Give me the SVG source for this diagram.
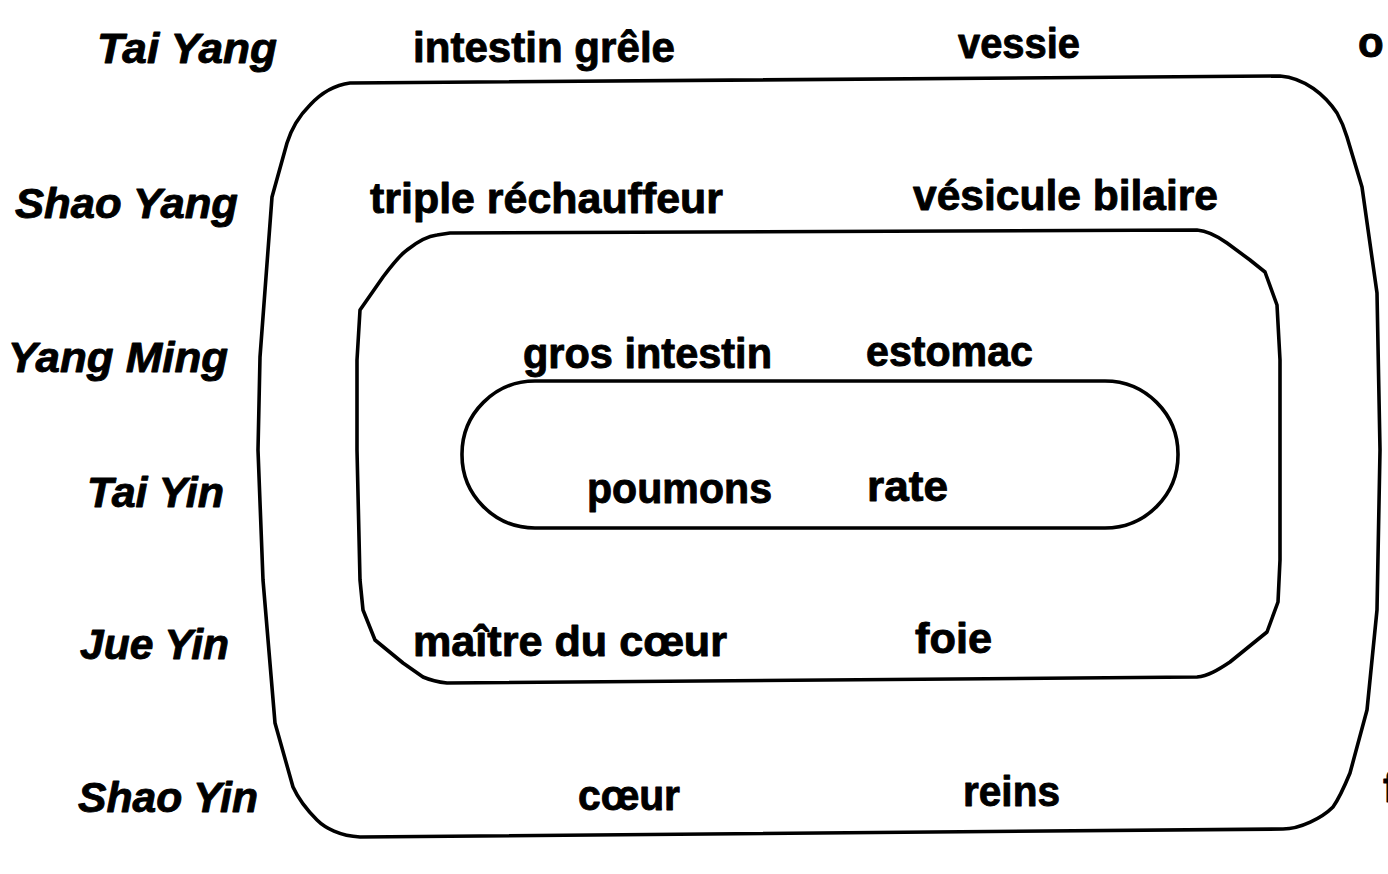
<svg xmlns="http://www.w3.org/2000/svg" width="1388" height="874" viewBox="0 0 1388 874">
<style>
.t{font-family:"Liberation Sans",Arial,sans-serif;font-weight:bold;font-size:42px;fill:#000;stroke:#000;stroke-width:0.9;stroke-linejoin:round}
.l{font-style:italic}
.s{fill:none;stroke:#000;stroke-width:3.6;stroke-linejoin:round}
</style>
<rect width="1388" height="874" fill="#fff"/>
<g id="connectors">
<g id="outer">
<path class="s" d="M350,83 L1280,76 C1305,78 1325,95 1337,113 C1342,122 1345,130 1347,137 L1362,187 L1377,293 L1380,450 L1377,610 L1367,710 L1350,773 C1343,790 1338,800 1333,807 C1322,818 1300,829 1283,829 L360,837 C340,836 325,828 317,820 C305,808 298,798 293,787 L275,723 L263,580 L258,450 L260,357 L272,197 L287,143 C292,127 300,115 310,105 C322,92 335,85 350,83 Z"/>
</g>
<g id="middle">
<path class="s" d="M450,233 L1197,230 C1210,231 1220,238 1227,243 L1250,260 L1265,272 L1277,305 L1280,360 L1280,560 L1278,602 L1267,632 L1230,662 C1218,670 1208,676 1197,677 L447,683 C438,682 430,680 423,677 L403,663 L375,640 L363,610 L360,580 L357,450 L357,360 L360,310 L383,277 C392,265 400,255 407,250 C417,242 428,236 437,235 Z"/>
</g>
<g id="inner">
<rect class="s" x="462" y="381" width="716" height="147" rx="73" ry="73"/>
</g>
</g>
<g id="labels-left">
<text class="t l" x="97" y="63" textLength="180" lengthAdjust="spacingAndGlyphs">Tai Yang</text>
<text class="t l" x="15" y="218" textLength="223" lengthAdjust="spacingAndGlyphs">Shao Yang</text>
<text class="t l" x="8" y="372" textLength="220" lengthAdjust="spacingAndGlyphs">Yang Ming</text>
<text class="t l" x="87" y="507" textLength="137" lengthAdjust="spacingAndGlyphs">Tai Yin</text>
<text class="t l" x="80" y="659" textLength="149" lengthAdjust="spacingAndGlyphs">Jue Yin</text>
<text class="t l" x="78" y="812" textLength="180" lengthAdjust="spacingAndGlyphs">Shao Yin</text>
</g>
<g id="organs">
<text class="t" x="413" y="62" textLength="262" lengthAdjust="spacingAndGlyphs">intestin grêle</text>
<text class="t" x="958" y="58" textLength="122" lengthAdjust="spacingAndGlyphs">vessie</text>
<text class="t" x="1358" y="57">o</text>
<text class="t" x="370" y="213" textLength="353" lengthAdjust="spacingAndGlyphs">triple réchauffeur</text>
<text class="t" x="913" y="210" textLength="305" lengthAdjust="spacingAndGlyphs">vésicule bilaire</text>
<text class="t" x="523" y="368" textLength="249" lengthAdjust="spacingAndGlyphs">gros intestin</text>
<text class="t" x="866" y="366" textLength="167" lengthAdjust="spacingAndGlyphs">estomac</text>
<text class="t" x="587" y="503" textLength="185" lengthAdjust="spacingAndGlyphs">poumons</text>
<text class="t" x="867" y="501" textLength="81" lengthAdjust="spacingAndGlyphs">rate</text>
<text class="t" x="413" y="656" textLength="314" lengthAdjust="spacingAndGlyphs">maître du cœur</text>
<text class="t" x="915" y="653" textLength="77" lengthAdjust="spacingAndGlyphs">foie</text>
<text class="t" x="578" y="810" textLength="102" lengthAdjust="spacingAndGlyphs">cœur</text>
<text class="t" x="963" y="806" textLength="97" lengthAdjust="spacingAndGlyphs">reins</text>
<text class="t" x="1383" y="802">f</text>
</g>
</svg>
